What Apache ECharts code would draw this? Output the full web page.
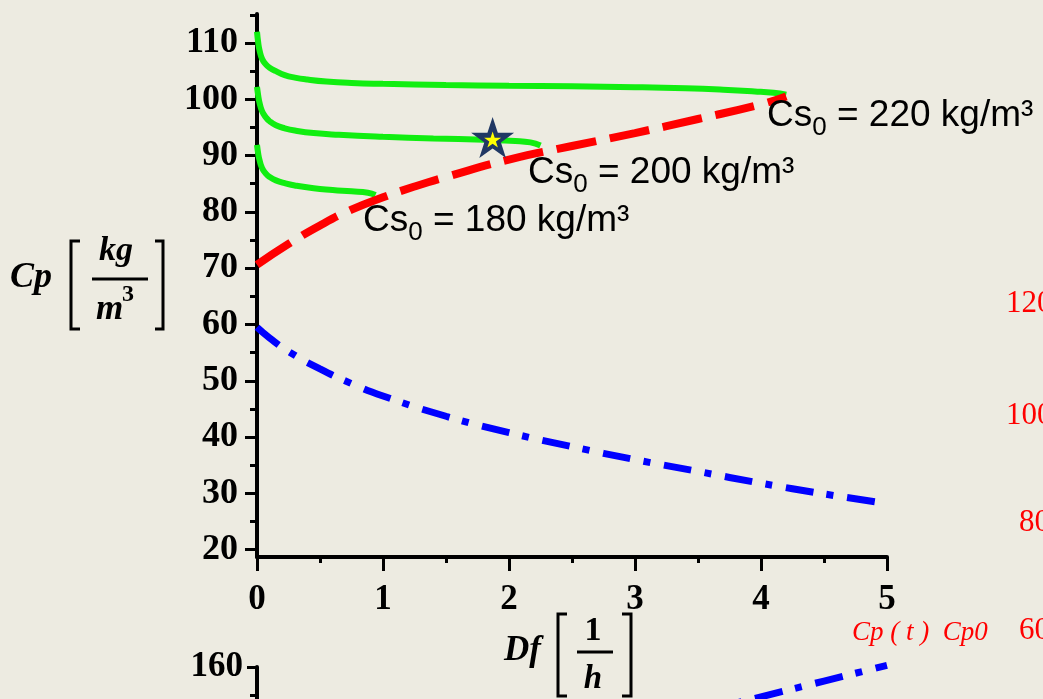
<!DOCTYPE html>
<html>
<head>
<meta charset="utf-8">
<script src="https://cdn.jsdelivr.net/npm/echarts@6/dist/echarts.min.js"></script>
<style>
html,body{margin:0;padding:0;background:#EDEBE1;}
#c{width:1043px;height:699px;}
</style>
</head>
<body>
<div id="c"></div>
<script>
// ---- data ----
const xTickValues = [0, 1, 2, 3, 4, 5];
const yTickValues = [20, 30, 40, 50, 60, 70, 80, 90, 100, 110];
const yMinorValues = [25, 35, 45, 55, 65, 75, 85, 95, 105, 115];

const g220X = [0, 0.01, 0.02, 0.04, 0.07, 0.1, 0.15, 0.22, 0.3, 0.4, 0.55, 0.75, 1, 1.5, 2, 2.5, 3, 3.4, 3.7, 3.95, 4.1, 4.2];
const g220Y = [112, 110.0, 108.7, 107.2, 106.2, 105.6, 105.0, 104.3, 103.85, 103.5, 103.15, 102.9, 102.75, 102.55, 102.4, 102.3, 102.15, 101.95, 101.7, 101.4, 101.15, 100.8];

const g200X = [0, 0.01, 0.02, 0.04, 0.07, 0.1, 0.15, 0.22, 0.3, 0.45, 0.65, 1, 1.4, 1.8, 2.05, 2.17, 2.25];
const g200Y = [102.2, 100.6, 99.4, 97.9, 96.8, 96.1, 95.4, 94.85, 94.45, 94.0, 93.7, 93.35, 93.05, 92.8, 92.6, 92.35, 91.8];

const g180X = [0, 0.01, 0.02, 0.04, 0.07, 0.1, 0.15, 0.22, 0.3, 0.45, 0.6, 0.75, 0.88, 0.94];
const g180Y = [91.9, 90.3, 89.2, 87.8, 86.8, 86.2, 85.6, 85.1, 84.7, 84.2, 83.9, 83.65, 83.4, 83.0];

const redX = [0, 0.25, 0.5, 0.75, 1, 1.25, 1.5, 2, 2.5, 3, 3.5, 4, 4.2];
const redY = [70.6, 74.3, 77.6, 80.4, 82.6, 84.5, 86.2, 89.3, 91.7, 94.0, 96.5, 99.1, 100.5];

const blueX = [0, 0.1, 0.25, 0.5, 0.75, 1, 1.5, 2, 2.5, 3, 3.5, 4, 4.5, 5];
const blueY = [59.5, 57.6, 55.2, 52.1, 49.5, 47.3, 43.7, 40.8, 38.3, 36.0, 33.9, 31.8, 29.9, 28.2];

const starX = [1.87];
const starY = [93.2];

// lower (cropped) chart
const lowerX = [3, 3.5, 4, 4.5, 5];
const lowerY = [149.1, 151.9, 154.7, 157.5, 160.3];

const csValues = ['220', '200', '180'];
const rightRedTicks = ['120', '100', '80', '60'];

// ---- helpers ----
const pairs = (xs, ys) => xs.map((x, i) => [x, ys[i]]);
const BLACK = '#000000';
const SERIF = '"Liberation Serif", "Times New Roman", serif';
const SANS = '"Liberation Sans", Arial, sans-serif';

const chart = echarts.init(document.getElementById('c'), null, {renderer: 'canvas'});

const tickLabel = (size) => ({
  color: BLACK, fontFamily: SERIF, fontWeight: 'bold', fontSize: size
});

function csText(x, y, v) {
  return {
    type: 'text', x: x, y: y, z: 100,
    style: {
      text: '{a|Cs}{b|0}{a| = ' + v + ' kg/m³}',
      align: 'left', verticalAlign: 'top',
      rich: {
        a: {fontSize: 37, fontFamily: SANS, lineHeight: 44, verticalAlign: 'top', fill: BLACK},
        b: {fontSize: 26, fontFamily: SANS, lineHeight: 20, verticalAlign: 'bottom', fill: BLACK}
      }
    }
  };
}

function bracket(points) {
  return {type: 'polyline', shape: {points: points}, style: {stroke: BLACK, lineWidth: 3, fill: null}};
}
function txt(x, y, text, font, align, color) {
  return {type: 'text', x: x, y: y, style: {text: text, font: font, fill: color || BLACK, align: align || 'left', verticalAlign: 'middle'}};
}

const star = 'path://M50,0 L61.8,35.1 L98.9,35.1 L68.9,56.8 L80.3,91.9 L50,70.2 L19.7,91.9 L31.1,56.8 L1.1,35.1 L38.2,35.1 Z';
const blueDash = {color: '#0000ff', width: 7, type: [28, 13, 7, 14], cap: 'butt'};
const green = {color: '#11ee11', width: 6};

const option = {
  animation: false,
  backgroundColor: '#EDEBE1',
  grid: [
    {left: 257, right: 156, top: 14, bottom: 142, outerBoundsMode: 'none', containLabel: false},
    {left: 257, right: 156, top: 667, height: 563, outerBoundsMode: 'none', containLabel: false}
  ],
  xAxis: [
    {
      type: 'value', gridIndex: 0, min: 0, max: 5, interval: 1,
      axisLine: {show: true, onZero: false, lineStyle: {color: BLACK, width: 4}},
      axisTick: {show: true, length: 14, lineStyle: {color: BLACK, width: 3}},
      minorTick: {show: true, splitNumber: 2, length: 6, lineStyle: {color: BLACK, width: 3}},
      splitLine: {show: false}, minorSplitLine: {show: false},
      axisLabel: Object.assign({margin: 25, customValues: xTickValues}, tickLabel(35))
    },
    {type: 'value', gridIndex: 1, min: 0, max: 5, show: false}
  ],
  yAxis: [
    {
      type: 'value', gridIndex: 0, min: 18.7, max: 115.15, position: 'left',
      axisLine: {show: true, onZero: false, lineStyle: {color: BLACK, width: 4}},
      axisTick: {show: true, length: 12, customValues: yTickValues, lineStyle: {color: BLACK, width: 3}},
      splitLine: {show: false},
      axisLabel: Object.assign({margin: 19, customValues: yTickValues}, tickLabel(36))
    },
    {
      type: 'value', gridIndex: 0, min: 18.7, max: 115.15, position: 'left', offset: 0,
      axisLine: {show: false},
      axisTick: {show: true, length: 7, customValues: yMinorValues, lineStyle: {color: BLACK, width: 3}},
      splitLine: {show: false},
      axisLabel: {show: false}
    },
    {
      type: 'value', gridIndex: 1, min: 60, max: 160, interval: 10, position: 'left',
      axisLine: {show: true, onZero: false, lineStyle: {color: BLACK, width: 4}},
      axisTick: {show: true, length: 10, lineStyle: {color: BLACK, width: 3}},
      minorTick: {show: true, splitNumber: 2, length: 7, lineStyle: {color: BLACK, width: 3}},
      splitLine: {show: false},
      axisLabel: Object.assign({margin: 14}, tickLabel(35))
    }
  ],
  series: [
    {
      type: 'line', xAxisIndex: 0, yAxisIndex: 0, data: pairs(blueX, blueY), symbol: 'none',
      smooth: 0.5, lineStyle: blueDash
    },
    {
      type: 'line', xAxisIndex: 0, yAxisIndex: 0, data: pairs(g220X, g220Y), symbol: 'none',
      smooth: 0.5, lineStyle: green
    },
    {
      type: 'line', xAxisIndex: 0, yAxisIndex: 0, data: pairs(g200X, g200Y), symbol: 'none',
      smooth: 0.5, lineStyle: green
    },
    {
      type: 'line', xAxisIndex: 0, yAxisIndex: 0, data: pairs(g180X, g180Y), symbol: 'none',
      smooth: 0.5, lineStyle: green
    },
    {
      type: 'line', xAxisIndex: 0, yAxisIndex: 0, data: pairs(redX, redY), symbol: 'none',
      smooth: 0.5, z: 3,
      lineStyle: {color: '#ff0000', width: 8, type: [40, 14], cap: 'butt'}
    },
    {
      type: 'scatter', xAxisIndex: 0, yAxisIndex: 0, data: pairs(starX, starY), z: 10,
      symbol: star, symbolSize: [43, 41], itemStyle: {color: '#203864', opacity: 1}, silent: true
    },
    {
      type: 'scatter', xAxisIndex: 0, yAxisIndex: 0, data: pairs(starX, starY), z: 11,
      symbol: star, symbolSize: [17, 16], symbolOffset: [0, 2], itemStyle: {color: '#ffff00', opacity: 1}, silent: true
    },
    {
      type: 'line', xAxisIndex: 1, yAxisIndex: 2, data: pairs(lowerX, lowerY), symbol: 'none', clip: false,
      smooth: 0.5, lineStyle: blueDash
    }
  ],
  graphic: [
    csText(767, 97, csValues[0]),
    csText(528, 154, csValues[1]),
    csText(363, 202, csValues[2]),
    // y axis title: Cp [kg/m^3]
    txt(10, 278, 'Cp', 'italic bold 36px ' + SERIF),
    bracket([[80, 241], [71, 241], [71, 329], [80, 329]]),
    bracket([[155, 241], [163, 241], [163, 329], [155, 329]]),
    {type: 'line', shape: {x1: 92, y1: 279, x2: 148, y2: 279}, style: {stroke: BLACK, lineWidth: 3}},
    txt(116, 251, 'kg', 'italic bold 34px ' + SERIF, 'center'),
    txt(96, 310, 'm', 'italic bold 35px ' + SERIF),
    txt(122, 295, '3', 'bold 24px ' + SERIF),
    // x axis title: Df [1/h]
    txt(504, 651, 'Df', 'italic bold 35px ' + SERIF),
    bracket([[567, 614], [558, 614], [558, 696], [567, 696]]),
    bracket([[622, 614], [631, 614], [631, 696], [622, 696]]),
    {type: 'line', shape: {x1: 577, y1: 652, x2: 613, y2: 652}, style: {stroke: BLACK, lineWidth: 3}},
    txt(593, 631, '1', 'bold 34px ' + SERIF, 'center'),
    txt(593, 679, 'h', 'italic bold 33px ' + SERIF, 'center'),
    // cropped neighbouring plot texts (red)
    txt(1006, 304, rightRedTicks[0], '31px ' + SERIF, 'left', '#ff0000'),
    txt(1006, 416, rightRedTicks[1], '31px ' + SERIF, 'left', '#ff0000'),
    txt(1019, 523, rightRedTicks[2], '31px ' + SERIF, 'left', '#ff0000'),
    txt(1019, 631, rightRedTicks[3], '31px ' + SERIF, 'left', '#ff0000'),
    txt(852, 633, 'Cp ( t )  Cp0', 'italic 27px ' + SERIF, 'left', '#ff0000')
  ]
};
chart.setOption(option);
</script>
</body>
</html>
